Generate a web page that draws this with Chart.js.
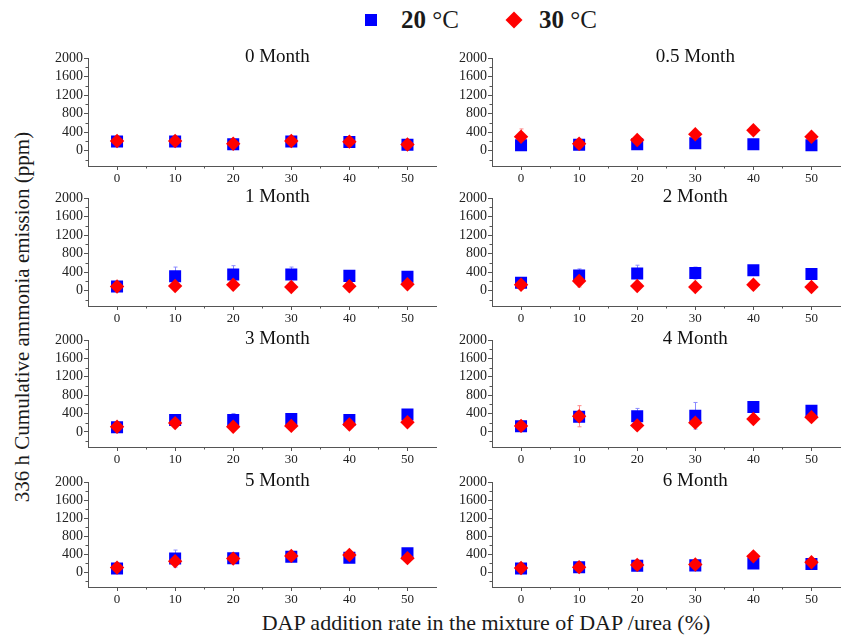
<!DOCTYPE html>
<html>
<head>
<meta charset="utf-8">
<script src="https://cdn.jsdelivr.net/npm/chart.js@4.4.0/dist/chart.umd.min.js"></script>
<style>
  body { margin: 0; background: #fff; width: 849px; height: 638px; position: relative; overflow: hidden;
         font-family: "Liberation Serif", serif; color: #1a1a1a; }
  canvas { position: absolute; }
  .lbl { position: absolute; white-space: nowrap; }
  .sq { position: absolute; background: #0000ff; }
  .dia { position: absolute; background: #ff0000; transform: rotate(45deg); }
</style>
</head>
<body>
<div class="sq" style="left:365px;top:14px;width:12px;height:12px"></div>
<div class="lbl" style="left:401px;top:6px;font-size:25px;line-height:28px"><b>20</b> °C</div>
<div class="dia" style="left:508px;top:14px;width:12px;height:12px"></div>
<div class="lbl" style="left:539px;top:6px;font-size:25px;line-height:28px"><b>30</b> °C</div>

<div class="lbl" style="left:22px;top:317px;font-size:21px;transform:translate(-50%,-50%) rotate(-90deg)">336 h Cumulative ammonia emission (ppm)</div>
<div class="lbl" style="left:486px;top:623px;font-size:22px;transform:translate(-50%,-50%)">DAP addition rate in the mixture of DAP /urea (%)</div>

<script>
// ------------------- Dane -------------------
const rates = [0, 10, 20, 30, 40, 50];
const months = ['0 Month', '0.5 Month', '1 Month', '2 Month', '3 Month', '4 Month', '5 Month', '6 Month'];
const yTicks = [0, 400, 800, 1200, 1600, 2000];
const yMinor = [-200, 200, 600, 1000, 1400, 1800];
const xMinor = [5, 15, 25, 35, 45];

// 20 °C
const t20 = [
    [200, 200, 140, 200, 190, 130],
    [120, 130, 140, 160, 140, 120],
    [90, 310, 350, 350, 320, 300],
    [170, 330, 370, 380, 440, 360],
    [100, 260, 260, 280, 260, 380],
    [120, 330, 340, 350, 540, 460],
    [80, 300, 310, 340, 320, 420],
    [80, 110, 140, 150, 190, 180]
];
const err20 = [
    [40, 40, 40, 40, 40, 40],
    [30, 30, 30, 30, 30, 30],
    [60, 200, 190, 160, 60, 60],
    [60, 140, 180, 130, 100, 60],
    [60, 80, 140, 80, 60, 60],
    [60, 90, 170, 290, 60, 60],
    [60, 190, 80, 80, 60, 60],
    [40, 40, 40, 40, 60, 40]
];
// 30 °C
const t30 = [
    [210, 210, 150, 210, 195, 135],
    [300, 150, 230, 355, 440, 300],
    [90, 100, 130, 80, 95, 140],
    [130, 210, 100, 80, 130, 80],
    [110, 190, 110, 130, 160, 210],
    [130, 340, 140, 200, 280, 320],
    [100, 240, 300, 360, 380, 310],
    [90, 110, 160, 170, 350, 220]
];
const err30 = [
    [50, 40, 40, 40, 40, 40],
    [170, 40, 60, 60, 60, 60],
    [60, 40, 40, 40, 40, 40],
    [100, 130, 40, 40, 40, 40],
    [60, 60, 40, 40, 40, 40],
    [100, 230, 60, 60, 40, 60],
    [70, 60, 40, 80, 40, 40],
    [40, 40, 40, 40, 40, 40]
];

// ------------------- Układ paneli -------------------
const FONT = '"Liberation Serif", serif';
const AXIS = '#555';
const colLeft = [88, 492];
const colRight = [442, 846];
const rowTop = [58, 198, 340, 482];
const rowBottom = [166, 306, 447, 587];
const titleAt = [27.6, 30];

function makePanel(i) {
    const col = i % 2, row = Math.floor(i / 2);
    const canvas = document.createElement('canvas');
    const left = colLeft[col] - 48, top = rowTop[row] - 10;
    const w = colRight[col] - left + 3, h = rowBottom[row] - top + 26;
    canvas.width = w; canvas.height = h;
    canvas.style.left = left + 'px'; canvas.style.top = top + 'px';
    canvas.style.width = w + 'px'; canvas.style.height = h + 'px';
    document.body.appendChild(canvas);

    const errorBars = {
        id: 'errorBars',
        beforeDatasetsDraw(chart) {
            const { ctx, scales: { x, y } } = chart;
            ctx.save();
            ctx.lineWidth = 1;
            [[t20, err20, '#8a8aff'], [t30, err30, '#ff8a8a']].forEach(([vals, errs, c]) => {
                ctx.strokeStyle = c;
                rates.forEach((r, j) => {
                    const px = Math.round(x.getPixelForValue(r)) + 0.5;
                    const y1 = y.getPixelForValue(vals[i][j] + errs[i][j]);
                    const y2 = y.getPixelForValue(vals[i][j] - errs[i][j]);
                    ctx.beginPath();
                    ctx.moveTo(px, y1); ctx.lineTo(px, y2);
                    ctx.moveTo(px - 2, y1); ctx.lineTo(px + 2, y1);
                    ctx.moveTo(px - 2, y2); ctx.lineTo(px + 2, y2);
                    ctx.stroke();
                });
            });
            ctx.restore();
        }
    };

    const minorTicks = {
        id: 'minorTicks',
        afterDraw(chart) {
            const { ctx, chartArea, scales: { x, y } } = chart;
            ctx.save();
            ctx.strokeStyle = AXIS;
            ctx.lineWidth = 1;
            ctx.beginPath();
            xMinor.forEach(v => {
                const px = Math.round(x.getPixelForValue(v)) + 0.5;
                ctx.moveTo(px, chartArea.bottom); ctx.lineTo(px, chartArea.bottom + 2.5);
            });
            yMinor.forEach(v => {
                const py = Math.round(y.getPixelForValue(v)) + 0.5;
                ctx.moveTo(chartArea.left, py); ctx.lineTo(chartArea.left - 2.5, py);
            });
            ctx.stroke();
            // tytuł panelu
            ctx.fillStyle = '#111';
            ctx.font = '19px ' + FONT;
            ctx.textAlign = 'center';
            ctx.textBaseline = 'middle';
            ctx.fillText(months[i], x.getPixelForValue(titleAt[col]), y.getPixelForValue(2000) - 1);
            ctx.restore();
        }
    };

    new Chart(canvas, {
        type: 'scatter',
        data: {
            datasets: [
                { label: '20 °C', data: rates.map((r, j) => ({ x: r, y: t20[i][j] })),
                  pointStyle: 'rect', pointRadius: 8.5, backgroundColor: '#0000ff', borderWidth: 0, order: 1 },
                { label: '30 °C', data: rates.map((r, j) => ({ x: r, y: t30[i][j] })),
                  pointStyle: 'rectRot', pointRadius: 7.2, backgroundColor: '#ff0000', borderWidth: 0, order: 0 }
            ]
        },
        options: {
            responsive: false,
            animation: false,
            events: [],
            layout: { padding: { top: 10, right: 3, left: 0, bottom: 0 } },
            plugins: { legend: { display: false }, tooltip: { enabled: false } },
            scales: {
                x: {
                    type: 'linear', min: -5, max: 55,
                    afterBuildTicks: s => { s.ticks = rates.map(v => ({ value: v })); },
                    afterFit: s => { s.height = 26; },
                    grid: { drawOnChartArea: false, tickLength: 4, color: AXIS },
                    border: { color: AXIS },
                    ticks: { font: { family: FONT, size: 13 }, color: '#222', padding: 1, maxRotation: 0,
                             callback: v => String(v) }
                },
                y: {
                    min: -330, max: 2000,
                    afterBuildTicks: s => { s.ticks = yTicks.map(v => ({ value: v })); },
                    afterFit: s => { s.width = 48; },
                    grid: { drawOnChartArea: false, tickLength: 4, color: AXIS },
                    border: { color: AXIS },
                    ticks: { font: { family: FONT, size: 14 }, color: '#222', padding: 1,
                             callback: v => String(v) }
                }
            }
        },
        plugins: [errorBars, minorTicks]
    });
}

months.forEach((m, i) => makePanel(i));
</script>
</body>
</html>
